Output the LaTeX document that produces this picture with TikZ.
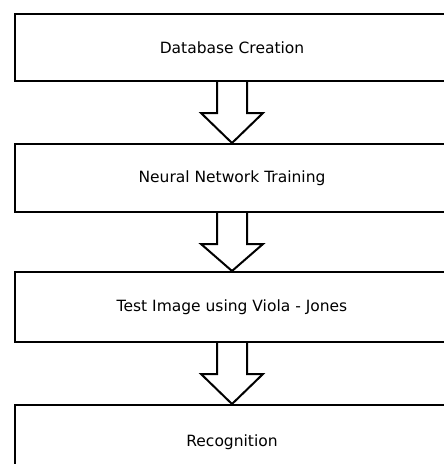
\documentclass[tikz,border=0pt]{standalone}
\usepackage{fontspec}
\setmainfont{DejaVu Sans}
\usetikzlibrary{calc}
\begin{document}
\begin{tikzpicture}[x=1pt,y=-1pt,
  stage/.style={draw=black, line width=2pt, fill=white, minimum width=434pt, inner sep=0pt, font=\fontsize{15.5}{18}\selectfont},
  blockarrow/.style={draw=black, line width=2pt, fill=white, line join=miter}]
\useasboundingbox (0,0) rectangle (444,464);
\node[stage, minimum height=67pt] (db) at (232,47.5) {Database Creation};
\node[stage, minimum height=68pt] (nn) at (232,178) {Neural Network Training};
\node[stage, minimum height=70pt] (vj) at (232,307) {Test Image using Viola - Jones};
\node[stage, minimum height=74pt] (rc) at (232,442) {Recognition};
\foreach \a/\b in {db/nn, nn/vj, vj/rc}{
  \draw[blockarrow] ($(\a.south)+(-15,0)$) -- ($(\a.south)+(-15,31)$) -- ($(\a.south)+(-31,31)$) -- (\b.north)
    -- ($(\a.south)+(31,31)$) -- ($(\a.south)+(15,31)$) -- ($(\a.south)+(15,0)$);
}
\end{tikzpicture}
\end{document}
